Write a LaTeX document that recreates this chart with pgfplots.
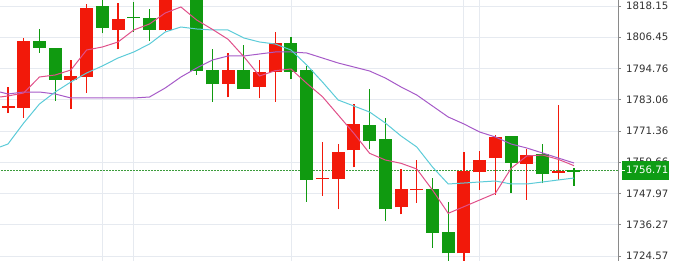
\documentclass[border=0pt]{standalone}
\usepackage{fontspec}
\setmainfont{DejaVu Sans}
\usepackage{pgfplots}
\usepackage{pgfplotstable}
\pgfplotsset{compat=1.18}
\definecolor{cred}{HTML}{F2190A}
\definecolor{cgreen}{HTML}{109A10}
\definecolor{boxgreen}{HTML}{0E9C14}
\definecolor{mapink}{HTML}{E0508A}
\definecolor{macyan}{HTML}{5CCBD8}
\definecolor{mapurple}{HTML}{A65AC8}
\definecolor{gridc}{HTML}{E6EAF0}
\definecolor{axisc}{HTML}{8A8A8A}
\definecolor{labc}{HTML}{303030}
\definecolor{dotc}{HTML}{3C9C3C}

% x = candle index, blo/bhi = body, wlo/whi = wick
\pgfplotstableread{
x blo bhi wlo whi
0 1779.98 1780.72 1778.10 1787.84
1 1780.09 1805.17 1776.34 1806.29
4 1790.46 1791.95 1779.71 1797.94
5 1791.47 1817.41 1785.70 1818.90
7 1809.28 1813.29 1801.95 1819.16
10 1809.06 1824.14 1808.90 1826.00
14 1788.96 1794.09 1783.98 1800.67
16 1787.84 1793.34 1783.61 1797.94
17 1793.34 1804.19 1782.33 1808.31
20 1753.48 1753.85 1747.15 1767.14
21 1753.40 1763.62 1742.06 1766.50
22 1764.14 1773.99 1757.78 1781.36
25 1742.81 1749.77 1740.19 1757.03
26 1749.21 1749.58 1744.53 1760.51
29 1725.59 1756.28 1721.50 1763.62
30 1755.91 1760.40 1749.28 1763.88
31 1761.15 1769.12 1747.41 1769.98
33 1759.13 1762.38 1745.54 1764.63
35 1755.76 1756.51 1752.91 1781.10
}\redtab

\pgfplotstableread{
x blo bhi wlo whi
2 1802.55 1805.05 1800.67 1809.43
3 1790.46 1802.55 1782.60 1802.55
6 1809.92 1818.15 1807.94 1821.52
8 1813.66 1813.92 1808.53 1819.76
9 1809.17 1813.55 1805.17 1817.03
11 1826.00 1832.00 1823.00 1835.00
12 1793.82 1823.40 1792.33 1826.00
13 1788.85 1794.09 1782.33 1801.95
15 1787.09 1794.09 1787.09 1803.56
18 1793.56 1804.19 1790.72 1806.66
19 1753.03 1794.20 1744.90 1795.70
23 1767.62 1773.61 1764.52 1786.98
24 1742.06 1768.26 1737.79 1776.12
27 1733.30 1749.77 1727.69 1753.89
28 1725.59 1733.56 1721.50 1744.90
32 1759.50 1769.50 1748.27 1769.50
34 1755.16 1762.65 1751.79 1766.50
36 1756.02 1756.66 1750.89 1757.52
}\greentab

% moving averages: x pink cyan purple
\pgfplotstableread{
x pink cyan purple
-0.51 1784.09 1765.38 1785.96
0 1784.47 1766.50 1785.22
1 1785.59 1774.36 1785.96
2 1791.58 1781.47 1785.96
3 1792.33 1785.96 1785.22
4 1794.20 1789.71 1783.72
5 1801.68 1793.08 1783.72
6 1802.81 1795.70 1783.72
7 1804.68 1798.69 1783.72
8 1809.17 1800.94 1783.72
9 1811.42 1803.93 1784.09
10 1815.53 1808.42 1787.46
11 1817.78 1810.29 1791.58
12 1812.91 1809.55 1794.95
13 1809.42 1809.17 1797.94
14 1805.68 1809.17 1799.44
15 1799.19 1806.18 1799.44
16 1791.95 1804.68 1800.19
17 1793.95 1803.93 1800.94
18 1794.57 1801.68 1800.94
19 1789.21 1796.07 1800.56
20 1784.22 1789.71 1798.69
21 1777.36 1782.97 1796.82
22 1770.50 1780.72 1795.32
23 1763.01 1778.48 1793.82
24 1760.51 1774.36 1791.20
25 1759.27 1769.50 1787.84
26 1757.14 1765.38 1784.84
27 1749.28 1757.89 1780.72
28 1740.55 1751.53 1776.61
29 1743.04 1751.90 1773.99
30 1745.54 1752.28 1770.99
31 1748.04 1752.65 1769.12
32 1757.39 1751.53 1766.50
33 1762.01 1751.53 1765.00
34 1762.38 1752.28 1763.13
35 1760.76 1753.03 1761.26
36 1758.39 1753.77 1759.39
}\matab

\begin{document}
\begin{tikzpicture}
\useasboundingbox (0,0) rectangle (673pt,261pt);
\begin{axis}[
  at={(0,0)}, anchor=south west,
  scale only axis, width=618pt, height=261pt,
  xmin=-0.509, xmax=38.8, ymin=1722.71, ymax=1820.40,
  axis line style={draw=none},
  xtick={6,8,18,29,30}, xticklabels={}, major x tick style={draw=none},
  xmajorgrids, ymajorgrids,
  grid style={draw=gridc, line width=0.9pt},
  ytick={1724.57,1736.27,1747.97,1759.66,1771.36,1783.06,1794.76,1806.45,1818.15},
  yticklabels={1724.57,1736.27,1747.97,1759.66,1771.36,1783.06,1794.76,1806.45,1818.15},
  ytick pos=right, yticklabel pos=right, tick align=outside,
  major tick length=3pt,
  major y tick style={draw=axisc, line width=0.7pt},
  yticklabel style={font=\fontsize{10.2}{12}\selectfont, text=labc, anchor=west, inner sep=0pt, xshift=5pt},
  candle/.style={draw=none, no markers, forget plot, error bars/.cd, y dir=plus, y explicit, error mark=none},
]
\addplot[dotc, line width=0.8pt, dash pattern=on 1.5pt off 1.5pt, no markers] coordinates {(-1,1756.71) (40,1756.71)};
% wicks
\addplot[candle, error bar style={draw=cred, line width=1.3pt}]
  table[x=x, y=wlo, y error expr=\thisrow{whi}-\thisrow{wlo}] {\redtab};
\addplot[candle, error bar style={draw=cgreen, line width=1.3pt}]
  table[x=x, y=wlo, y error expr=\thisrow{whi}-\thisrow{wlo}] {\greentab};
% bodies
\addplot[candle, error bar style={draw=cred, line width=13pt}]
  table[x=x, y=blo, y error expr=\thisrow{bhi}-\thisrow{blo}] {\redtab};
\addplot[candle, error bar style={draw=cgreen, line width=13pt}]
  table[x=x, y=blo, y error expr=\thisrow{bhi}-\thisrow{blo}] {\greentab};
% moving averages
\addplot[mapurple, line width=1pt, no markers] table[x=x, y=purple] {\matab};
\addplot[macyan, line width=1pt, no markers] table[x=x, y=cyan] {\matab};
\addplot[mapink, line width=1pt, no markers] table[x=x, y=pink] {\matab};
\coordinate (cp) at (axis cs:38.8,1756.71);
\coordinate (ab) at (rel axis cs:1,0);
\coordinate (at) at (rel axis cs:1,1);
\end{axis}
\draw[axisc, line width=0.9pt] (ab) -- (at);
\fill[boxgreen] ([xshift=3.5pt, yshift=-9.5pt]cp) rectangle ([xshift=50.5pt, yshift=9.5pt]cp);
\draw[white, line width=0.7pt] ([xshift=3.5pt]cp) -- ++(3pt,0);
\node[anchor=west, text=white, font=\fontsize{10.2}{12}\selectfont, inner sep=0pt] at ([xshift=8pt]cp) {1756.71};
\end{tikzpicture}
\end{document}
